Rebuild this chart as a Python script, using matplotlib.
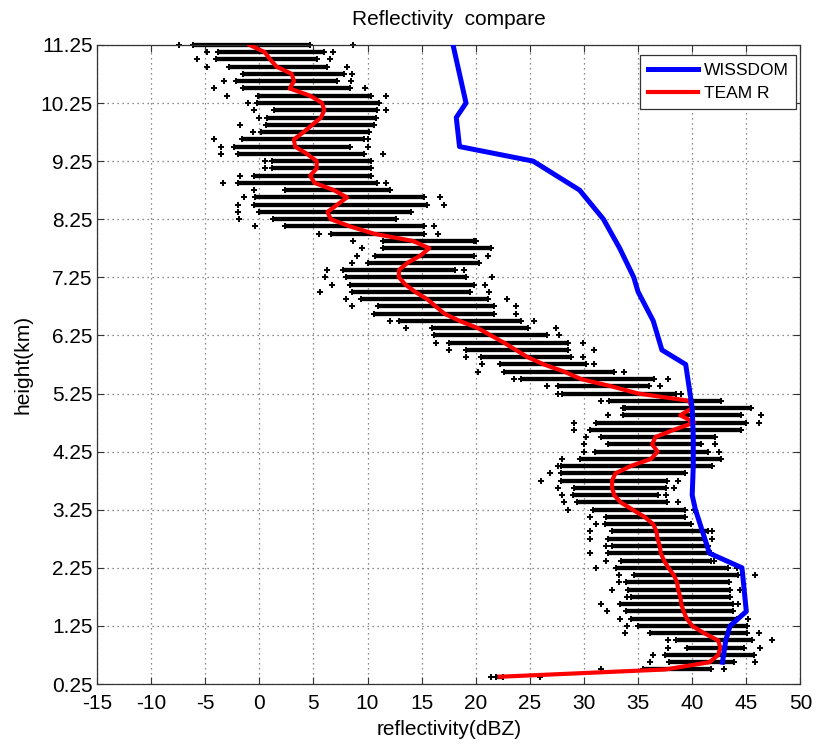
import numpy as np
import matplotlib
matplotlib.use("Agg")
import matplotlib.pyplot as plt

plt.rcParams['font.family'] = ['Liberation Sans', 'DejaVu Sans']
plt.rcParams['axes.unicode_minus'] = False

# radar gate heights (km)
height = [0.375, 0.5, 0.625, 0.75, 0.875, 1.0, 1.125, 1.25,
          1.375, 1.5, 1.625, 1.75, 1.875, 2.0, 2.125, 2.25,
          2.375, 2.5, 2.625, 2.75, 2.875, 3.0, 3.125, 3.25,
          3.375, 3.5, 3.625, 3.75, 3.875, 4.0, 4.125, 4.25,
          4.375, 4.5, 4.625, 4.75, 4.875, 5.0, 5.125, 5.25,
          5.375, 5.5, 5.625, 5.75, 5.875, 6.0, 6.125, 6.25,
          6.375, 6.5, 6.625, 6.75, 6.875, 7.0, 7.125, 7.25,
          7.375, 7.5, 7.625, 7.75, 7.875, 8.0, 8.125, 8.25,
          8.375, 8.5, 8.625, 8.75, 8.875, 9.0, 9.125, 9.25,
          9.375, 9.5, 9.625, 9.75, 9.875, 10.0, 10.125, 10.25,
          10.375, 10.5, 10.625, 10.75, 10.875, 11.0, 11.125, 11.25]

# TEAM R samples per gate: outermost stray points and the dense core (dBZ)
lo_out = [21.4, 31.6, 36.1, 36.4, 37.8, 37.8, 33.8, 34.0,
          33.3, 32.1, 31.6, 34.0, 32.6, 33.2, 33.2, 31.1,
          32.0, 30.6, 32.0, 30.6, 30.6, 31.1, 30.6, 28.5,
          28.2, 28.0, 27.6, 26.0, 26.9, 27.6, 28.0, 30.0,
          30.0, 30.2, 29.1, 29.1, 32.2, 33.6, 31.6, 27.6,
          26.6, 23.5, 20.2, 20.6, 19.1, 17.5, 16.3, 16.1,
          13.6, 12.1, 10.6, 8.6, 8.0, 5.6, 6.7, 6.1,
          6.3, 8.6, 9.0, 9.5, 8.7, 5.5, -0.4, -1.9,
          -2.0, -2.0, -1.4, -0.5, -3.4, -1.8, 0.5, 0.5,
          -3.5, -3.5, -4.2, -0.6, -1.8, 0.0, -0.5, -1.0,
          -3.0, -4.2, -3.3, -1.5, -4.8, -5.8, -4.8, -7.4]
lo_core = [21.9, 35.5, 37.9, 37.5, 39.5, 38.5, 36.1, 35.0,
           34.3, 33.9, 33.3, 34.3, 34.1, 33.9, 34.6, 33.0,
           33.4, 32.2, 32.6, 32.2, 32.6, 31.9, 32.0, 30.8,
           29.4, 29.0, 29.1, 27.9, 27.9, 27.9, 29.6, 31.0,
           32.2, 31.6, 30.6, 31.1, 33.6, 33.8, 32.3, 28.0,
           27.6, 24.2, 22.6, 22.2, 20.5, 19.1, 17.5, 16.1,
           16.0, 12.9, 10.6, 11.0, 9.4, 8.6, 8.4, 8.0,
           7.7, 10.0, 10.7, 11.4, 11.4, 6.6, 2.4, 1.3,
           0.0, -0.5, -0.4, 2.4, -2.0, -0.5, 1.2, 1.2,
           -2.0, -2.3, -1.6, 0.2, 0.6, 0.7, 1.4, -0.2,
           -0.1, -1.5, -2.2, -1.5, -2.8, -4.0, -3.8, -6.1]
hi_core = [22.5, 41.7, 43.9, 45.7, 44.8, 45.5, 45.1, 45.1,
           44.1, 43.8, 43.8, 43.5, 43.5, 43.4, 44.2, 43.3,
           41.7, 41.7, 41.5, 41.1, 41.5, 39.9, 39.3, 39.3,
           37.7, 36.8, 37.6, 37.7, 39.3, 41.8, 42.7, 41.5,
           40.8, 42.1, 44.5, 45.0, 44.5, 45.4, 42.7, 38.5,
           36.0, 36.5, 32.8, 30.2, 28.8, 28.5, 28.5, 26.6,
           24.8, 24.2, 21.7, 21.7, 21.1, 19.5, 19.8, 19.1,
           18.1, 20.3, 19.8, 21.4, 19.8, 15.2, 15.2, 12.6,
           14.0, 15.5, 15.2, 12.1, 10.9, 10.3, 10.3, 10.3,
           9.7, 8.4, 9.7, 10.1, 10.6, 10.8, 10.9, 11.1,
           10.3, 8.4, 7.2, 7.8, 6.3, 5.3, 6.0, 4.7]
hi_out = [25.9, 42.9, 45.8, 45.7, 46.3, 47.4, 46.2, 45.1,
          45.2, 43.8, 44.2, 43.5, 44.4, 43.4, 45.8, 44.1,
          42.0, 41.7, 41.5, 41.8, 41.8, 39.9, 39.3, 40.2,
          38.7, 37.6, 38.3, 38.7, 39.3, 41.8, 42.7, 42.5,
          42.1, 42.1, 44.5, 46.2, 46.4, 45.4, 42.7, 39.0,
          37.0, 37.8, 33.7, 30.9, 29.9, 30.9, 29.9, 27.7,
          27.4, 25.4, 23.7, 23.7, 22.9, 21.2, 20.9, 21.5,
          18.9, 20.3, 21.1, 21.4, 20.0, 16.5, 16.1, 12.6,
          14.0, 17.1, 16.7, 12.1, 11.7, 10.3, 10.3, 10.3,
          11.4, 10.0, 10.0, 10.1, 10.6, 10.8, 11.7, 11.1,
          11.7, 9.8, 8.5, 8.6, 8.1, 6.5, 6.8, 8.7]

# TEAM R mean profile (dBZ)
team_r = [22.2, 37.5, 41.6, 42.4, 42.6, 42.4, 41.1, 40.0,
          39.5, 39.2, 39.0, 38.9, 38.7, 38.6, 38.3, 37.8,
          37.4, 37.1, 37.0, 36.8, 36.7, 36.4, 35.6, 34.5,
          33.4, 32.8, 32.6, 32.6, 32.9, 34.3, 36.2, 36.8,
          36.3, 36.6, 38.3, 40.2, 38.9, 40.0, 39.7, 35.0,
          32.5, 29.7, 28.2, 26.3, 24.8, 23.7, 22.6, 21.4,
          20.2, 18.5, 17.1, 16.3, 15.5, 14.4, 13.5, 12.9,
          12.9, 13.7, 14.9, 15.7, 14.2, 10.6, 8.4, 6.6,
          6.3, 7.2, 8.1, 6.9, 5.1, 4.7, 5.3, 5.3,
          4.4, 3.3, 3.2, 4.1, 4.9, 5.7, 6.0, 5.8,
          4.7, 2.8, 3.2, 3.0, 1.6, 1.0, 0.5, -0.9]

# WISSDOM profile
wiss_h = [0.625, 0.75, 1.0, 1.25, 1.5, 2.25, 2.5, 3.25, 3.5, 4.0, 4.5, 5.0,
          5.25, 5.75, 6.0, 6.25, 6.5, 7.0, 7.25, 7.75, 8.25, 8.75, 9.25,
          9.5, 10.0, 10.25, 11.25]
wiss_z = [42.8, 42.9, 43.1, 43.5, 45.0, 44.6, 41.6, 40.3, 40.0, 40.1, 40.1, 40.0,
          39.8, 39.4, 37.2, 36.8, 36.4, 35.0, 34.6, 33.3, 31.8, 29.6, 25.3,
          18.5, 18.2, 19.1, 17.9]

xticks = list(range(-15, 51, 5))
yticks = [0.25, 1.25, 2.25, 3.25, 4.25, 5.25, 6.25, 7.25, 8.25, 9.25, 10.25, 11.25]

fig = plt.figure(figsize=(8.17, 7.51), dpi=100)
ax = fig.add_axes([0.1187, 0.0892, 0.861, 0.851])

# scatter of individual samples
ax.hlines(height, lo_core, hi_core, colors='k', lw=3.1, zorder=2, clip_on=False)
for xs in (lo_out, lo_core, hi_core, hi_out):
    ax.plot(xs, height, 'k+', ms=4.5, mew=1.4, zorder=2, clip_on=False)

ax.plot(wiss_z, wiss_h, color='#0000ff', lw=3.6, label='WISSDOM', zorder=4)
ax.plot(team_r, height, color='#ff0000', lw=3.0, label='TEAM R', zorder=3)

ax.set_xlim(-15, 50)
ax.set_ylim(0.25, 11.25)
ax.set_xticks(xticks)
ax.set_yticks(yticks)
ax.set_yticklabels(['%.2f' % v for v in yticks])
ax.grid(True, color='#666666', ls=(0, (1, 3)), lw=0.9)
ax.tick_params(direction='in', top=True, right=True, length=5, width=0.8,
               labelsize=15, colors='#333333', labelcolor='black', pad=3)
ax.tick_params(axis='x', pad=7)
for s in ax.spines.values():
    s.set_color('#333333')
    s.set_linewidth(0.9)

ax.set_title('Reflectivity  compare', fontsize=15, pad=14)
ax.set_xlabel('reflectivity(dBZ)', fontsize=15, labelpad=5)
ax.set_ylabel('height(km)', fontsize=15, labelpad=6)

leg = ax.legend(loc='upper right', bbox_to_anchor=(0.994, 0.984), borderaxespad=0,
                fontsize=12.5, fancybox=False, framealpha=1, edgecolor='#333333',
                handlelength=2.9, handletextpad=0.3, borderpad=0.45, labelspacing=0.45)
leg.get_frame().set_linewidth(0.9)

fig.savefig('out.png', dpi=100)
